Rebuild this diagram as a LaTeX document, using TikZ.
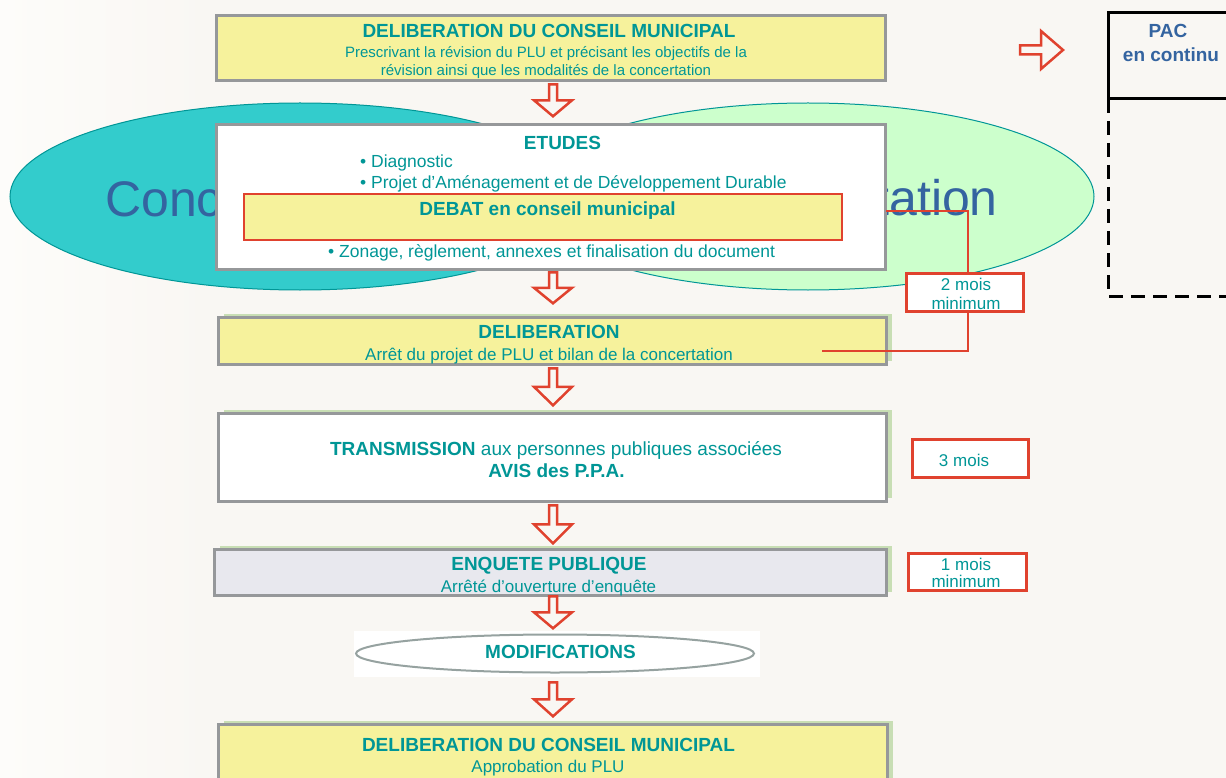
\documentclass[tikz,border=0pt]{standalone}
\usepackage{fontspec}
\setmainfont{Liberation Sans}
\usetikzlibrary{calc,shadows,shapes.geometric}
\definecolor{bg}{RGB}{249,247,243}
\definecolor{bgl}{RGB}{253,252,250}
\definecolor{tealc}{RGB}{0,150,150}
\definecolor{bluec}{RGB}{52,100,160}
\definecolor{yel}{RGB}{246,242,156}
\definecolor{grayb}{RGB}{150,152,154}
\definecolor{redc}{RGB}{224,66,46}
\definecolor{shgreen}{RGB}{200,222,180}
\definecolor{lav}{RGB}{232,232,238}
\definecolor{cyanell}{RGB}{51,204,204}
\definecolor{greenell}{RGB}{204,255,204}
\newcommand\blockarrow[4]{%
  \draw[blockarr] let \p1=(#1.south), \p2=(#2.north),
    \n1={\y1-#3pt}, \n2={\y2+#4pt}, \n3={(\y1-#3pt+\y2+#4pt)/2} in
    (549pt,\n1) -- (557pt,\n1) -- (557pt,\n3) -- (572pt,\n3) -- (553pt,\n2)
    -- (534pt,\n3) -- (549pt,\n3) -- cycle;}
\begin{document}
\begin{tikzpicture}[x=1pt,y=-1pt,
  box/.style={draw=grayb, line width=3pt, anchor=north west, inner sep=0pt, outer sep=0pt, rectangle},
  shad/.style={general shadow={fill=shgreen, shadow xshift=6pt, shadow yshift=3pt}},
  redbox/.style={draw=redc, line width=3pt, fill=white, anchor=north west, inner sep=0pt, outer sep=0pt, rectangle},
  tb/.style={text=tealc, font=\fontsize{19}{22}\selectfont\bfseries, anchor=base, inner sep=0pt},
  tr/.style={text=tealc, font=\fontsize{17}{20}\selectfont, anchor=base, inner sep=0pt},
  ts/.style={text=tealc, font=\fontsize{15}{18}\selectfont, anchor=base, inner sep=0pt},
  tl/.style={text=tealc, font=\fontsize{17.5}{20}\selectfont, anchor=base west, inner sep=0pt},
  tbig/.style={text=bluec, font=\fontsize{50}{56}\selectfont, inner sep=0pt},
  tpac/.style={text=bluec, font=\fontsize{19}{22}\selectfont\bfseries, anchor=base, inner sep=0pt},
  blockarr/.style={draw=redc, line width=2.5pt, fill=bg, line join=miter},
  redline/.style={draw=redc, line width=2.5pt},
  ell/.style={ellipse, draw=tealc, line width=1pt, inner sep=0pt},
]
\useasboundingbox (0,0) rectangle (1226,778);
\clip (0,0) rectangle (1226,778);
\fill[bg] (0,0) rectangle (1226,778);
\shade[left color=bgl, right color=bg] (0,0) rectangle (210,778);

% ellipses "Concertation"
\node[ell, fill=cyanell, minimum width=580pt, minimum height=187pt] (lell) at (300,196.5) {};
\node[ell, fill=greenell, minimum width=572pt, minimum height=187pt] (rell) at (808,196.5) {};
\node[tbig, anchor=base west] (lconc) at (105,217) {Concertation};
\node[tbig, anchor=base east] (rconc) at (998,215) {Concertation};

% top box
\node[box, fill=yel, minimum width=669pt, minimum height=65pt] (b1) at (216,16) {};
\node[tb] (b1t) at (549,38) {DELIBERATION DU CONSEIL MUNICIPAL};
\node[ts] (b1s1) at (546,58) {Prescrivant la révision du PLU et précisant les objectifs de la};
\node[ts] (b1s2) at (546,76) {révision ainsi que les modalités de la concertation};

% etudes
\node[box, fill=white, minimum width=669pt, minimum height=144pt] (etudes) at (216,125) {};
\node[tb] (etudest) at (562.5,150) {ETUDES};
\node[tl] (diag) at (360,168) {• Diagnostic};
\node[tl] (padd) at (360,189) {• Projet d’Aménagement et de Développement Durable};
\node[draw=redc, line width=2pt, fill=yel, anchor=north west, inner sep=0pt, outer sep=0pt, minimum width=598pt, minimum height=46pt] (debat) at (244,194) {};
\node[tb] (debatt) at (547.5,215) {DEBAT en conseil municipal};
\node[tl] (zonage) at (328,257) {• Zonage, règlement, annexes et finalisation du document};

% délai 2 mois
\node[redbox, minimum width=117pt, minimum height=38pt] (two) at (906,273) {};
\coordinate (dA) at (886,211);
\coordinate (v1) at (968,211);
\coordinate (v2) at (968,351);
\coordinate (dB) at (822,351);

% deliberation
\node[box, shad, fill=yel, minimum width=668pt, minimum height=47pt] (delib) at (218,317) {};
\node[tb] (delibt) at (549,338) {DELIBERATION};
\node[tr] (delibs) at (549,360) {Arrêt du projet de PLU et bilan de la concertation};

\draw[redline] (dA) -- (v1) -- (v1 |- two.north);
\draw[redline] (v2 |- two.south) -- (v2) -- (dB);
\node[tr] (twot1) at (966,290) {2 mois};
\node[tr] (twot2) at (966,309) {minimum};

% transmission
\node[box, shad, fill=white, minimum width=668pt, minimum height=88pt] (trans) at (218,413) {};
\node[text=tealc, font=\fontsize{19}{22}\selectfont, anchor=base, inner sep=0pt] (transt) at (556,455) {\textbf{TRANSMISSION} aux personnes publiques associées};
\node[tb] (avis) at (556.5,477) {AVIS des P.P.A.};
\node[redbox, minimum width=116pt, minimum height=38pt] (three) at (912,439) {};
\node[tr] (threet) at (964,466) {3 mois};

% enquete
\node[box, shad, fill=lav, minimum width=672pt, minimum height=46pt] (enq) at (214,549) {};
\node[tb] (enqt) at (549,570) {ENQUETE PUBLIQUE};
\node[tr] (enqs) at (548.5,592) {Arrêté d’ouverture d’enquête};
\node[redbox, minimum width=118pt, minimum height=37pt] (one) at (908,553) {};
\node[tr] (onet1) at (966,570) {1 mois};
\node[tr] (onet2) at (966,587) {minimum};

% modifications
\node[fill=white, anchor=north west, inner sep=0pt, outer sep=0pt, minimum width=406pt, minimum height=46pt] (modif) at (354,631) {};
\node[ellipse, draw={rgb,255:red,150;green,162;blue,160}, line width=2pt, inner sep=0pt, minimum width=398pt, minimum height=38pt] (modell) at (555,653.5) {};
\node[tb] (modt) at (560.5,658) {MODIFICATIONS};

% final
\node[box, shad, fill=yel, minimum width=669pt, minimum height=80pt] (final) at (218,724) {};
\node[tb] (finalt) at (548.5,751) {DELIBERATION DU CONSEIL MUNICIPAL};
\node[tr] (finals) at (548,772) {Approbation du PLU};

% arrows
\blockarrow{b1}{etudes}{3.3}{8.7}
\blockarrow{etudes}{delib}{3.3}{13.7}
\blockarrow{delib}{trans}{4.3}{7.7}
\blockarrow{trans}{enq}{4.3}{5.7}
\blockarrow{enq}{modif}{1.3}{2.7}
\blockarrow{modif}{final}{5.3}{7.7}

% PAC
\node[draw=black, line width=3pt, anchor=north west, inner sep=0pt, outer sep=0pt, minimum width=130pt, minimum height=86pt] (pac) at (1108,13) {};
\node[tpac] (pact1) at (1168,38) {PAC};
\node[tpac] (pact2) at (1171,62) {en continu};
\coordinate (pacd) at (1108,296);
\coordinate (pace) at (1240,296);
\draw[black, line width=3pt, dash pattern=on 14pt off 8pt] (pac.south west) -- (pacd) -- (pace);
\coordinate (pacarr) at (1063,50);
\draw[blockarr] (1020,45.5) -- (1041,45.5) -- (1041,31) -- (pacarr) -- (1041,69) -- (1041,54.5) -- (1020,54.5) -- cycle;
\end{tikzpicture}
\end{document}
